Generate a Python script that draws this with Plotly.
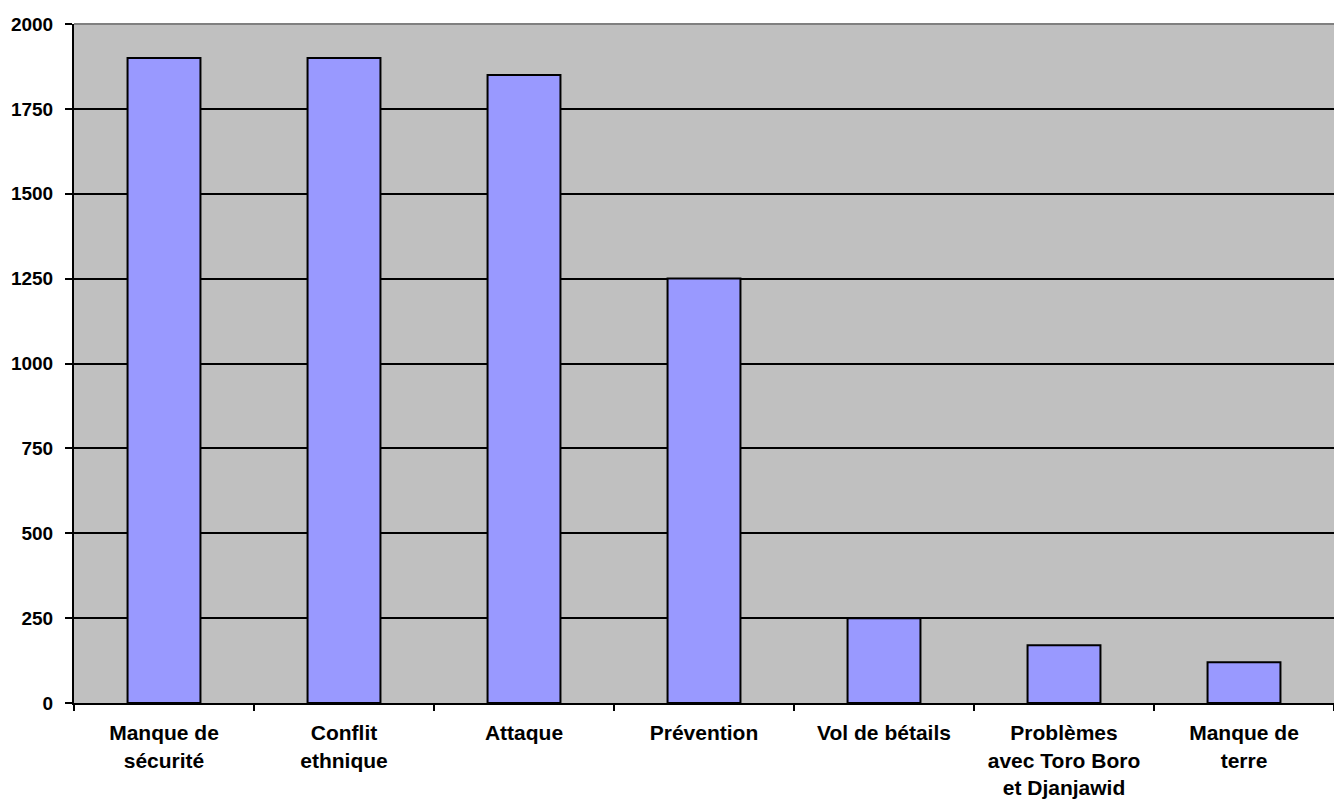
import plotly.graph_objects as go

categories = ["Manque de sécurité", "Conflit ethnique", "Attaque", "Prévention",
              "Vol de bétails", "Problèmes avec Toro Boro et Djanjawid", "Manque de terre"]
tick_labels = ["Manque de<br>sécurité", "Conflit<br>ethnique", "Attaque", "Prévention",
               "Vol de bétails", "Problèmes<br>avec Toro Boro<br>et Djanjawid", "Manque de<br>terre"]
values = [1900, 1900, 1850, 1250, 250, 170, 120]
y_ticks = [0, 250, 500, 750, 1000, 1250, 1500, 1750, 2000]

font = dict(family="Liberation Sans, Arial, sans-serif", size=19, color="black")

fig = go.Figure(go.Bar(
    x=categories, y=values,
    marker=dict(color="#9999FF", line=dict(color="black", width=2)),
    width=0.405,
))

fig.update_layout(
    width=1334, height=803,
    margin=dict(l=74, r=0, t=24, b=100),
    paper_bgcolor="white", plot_bgcolor="#C0C0C0",
    showlegend=False,
    font=font,
    xaxis=dict(
        tickmode="array", tickvals=categories, ticktext=tick_labels,
        tickson="boundaries", ticks="outside", ticklen=6, tickwidth=1.5, tickcolor="black",
        showline=True, linecolor="black", linewidth=2,
        showgrid=False, tickfont=dict(size=21, weight="bold"),
        ticklabelstandoff=10,
    ),
    yaxis=dict(
        range=[0, 2000], tickvals=y_ticks,
        ticks="outside", ticklen=7, tickwidth=1.5, tickcolor="black",
        showline=True, linecolor="black", linewidth=2,
        showgrid=True, gridcolor="black", gridwidth=2, zeroline=False,
        tickfont=dict(size=19, weight="bold"),
        ticklabelstandoff=8,
    ),
    shapes=[dict(type="line", xref="paper", yref="paper", x0=0, x1=1, y0=1, y1=1,
                 line=dict(color="#808080", width=2), layer="above")],
)

fig.write_html("out.html")
